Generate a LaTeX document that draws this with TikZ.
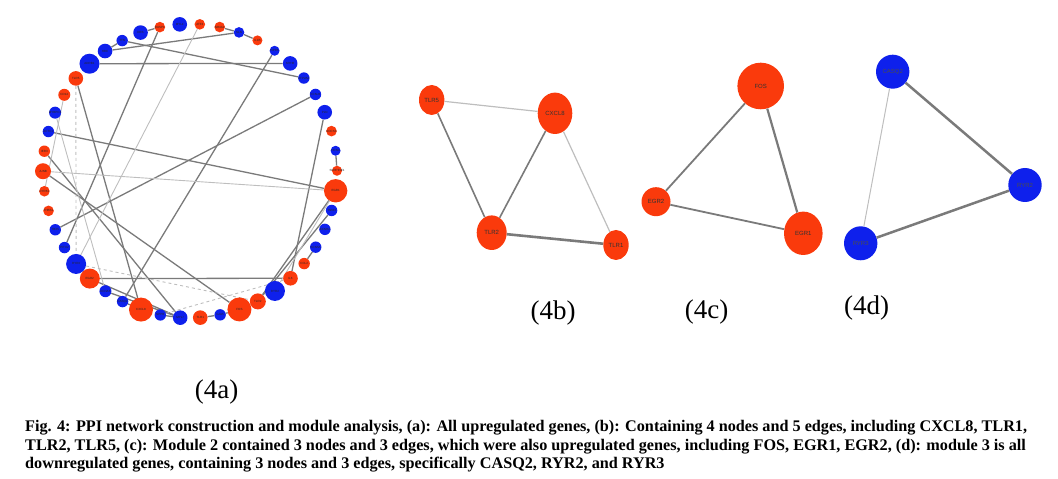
\documentclass[tikz,border=0pt]{standalone}
\usepackage{fontspec}
\setmainfont{Liberation Serif}
\setsansfont{Liberation Sans}
\usetikzlibrary{shapes.geometric}
\usetikzlibrary{backgrounds}
\definecolor{upred}{RGB}{250,58,12}
\definecolor{downblue}{RGB}{14,32,236}
\definecolor{edgegray}{RGB}{122,122,122}
\definecolor{edgelight}{RGB}{190,190,190}
\newcommand\tinyname[0]{\sffamily\fontsize{3}{3}\selectfont}

\tikzset{
  gene/.style={circle,inner sep=0pt},
  genename/.style={inner sep=0pt,text=black!85,font=\tinyname},
  module/.style={ellipse,inner sep=0pt,text=black!80,font=\sffamily\fontsize{6}{6}\selectfont},
  link/.style={edgegray,line width=1.3pt},
  weak/.style={edgelight,line width=0.9pt},
  panel/.style={font=\fontsize{27}{27}\selectfont},
}

\begin{document}
\begin{tikzpicture}[x=1pt,y=1pt]

\useasboundingbox (0,0) rectangle (1058,479);

% (4a) all genes on a ring
\begin{scope}[shift={(190,308)}]
\foreach \col/\rad/\lab [count=\i] in {
  downblue/7.3/MYL4, upred/5.3/ATF3, upred/5.3/NR4A2, downblue/5.3/SLN,
  upred/5/IL1B, downblue/5/NPPA, downblue/7.3/MYH6, downblue/5.7/ATP2A2,
  downblue/5.7/KCNJ3, downblue/7.3/PLN, upred/5.3/SOCS3, downblue/5/HCN4,
  upred/5/SERPINE1, upred/11.7/EGR1, downblue/5.7/TNNI3, downblue/5.7/KCNH2,
  downblue/5.7/SCN5A, upred/5.7/CCL2, upred/7.3/IL6, downblue/10/RYR2,
  upred/8/TLR2, upred/12/FOS, downblue/5.7/GJA5, upred/7.3/TLR1,
  downblue/7.3/MYL7, downblue/5.7/NPPB, upred/12/CXCL8, downblue/5.7/CASQ2,
  downblue/6/KCNA5, upred/10/EGR2, downblue/10/RYR3, downblue/5.7/PITX2,
  downblue/5.7/TBX5, upred/5.3/THBS1, upred/5.3/CYR61, upred/8/JUNB,
  upred/5.7/IER3, downblue/5.7/ACTC1, downblue/6/MYBPC3, upred/6/CD14,
  upred/7.3/TLR5, downblue/10/ADRB1, downblue/7.3/HRC, downblue/5.7/TTN,
  downblue/7.3/DES, upred/5.3/DUSP1}
  \node[gene,fill=\col,minimum size=2*\rad pt,label={[genename]center:\lab}] (n\i) at ({94-7.826*(\i-1)}:147) {};
\end{scope}

\begin{scope}[on background layer]
\foreach \a/\b in {42/7,43/4,44/8,46/32,6/28,9/33,10/19,38/14,37/25,36/22,14/21,15/21,30/19,41/27,29/25,30/25,
  45/46,43/44,3/4,4/5,12/13,22/23,23/24,27/28,25/26,17/18}
  \draw[link] (n\a) -- (n\b);
\foreach \a/\b in {2/31,36/14,40/35,39/29,14/20}
  \draw[weak] (n\a) -- (n\b);
\foreach \a/\b in {31/21,26/19,41/31}
  \draw[weak,dashed] (n\a) -- (n\b);
\end{scope}

\node[panel] (lba) at (216.7,87.3) {(4a)};

% (4b)
\node[module,fill=upred,minimum width=25.4pt,minimum height=30pt] (tlr5) at (431.7,379) {TLR5};
\node[module,fill=upred,minimum width=34.6pt,minimum height=41.4pt] (cxcl8) at (555,365.7) {CXCL8};
\node[module,fill=upred,minimum width=30pt,minimum height=34.6pt] (tlr2) at (491.7,246.3) {TLR2};
\node[module,fill=upred,minimum width=25.4pt,minimum height=30pt] (tlr1) at (616,234) {TLR1};
\draw[edgelight,line width=1.2pt] (tlr5) -- (cxcl8);
\draw[link,line width=1.6pt] (tlr5) -- (tlr2);
\draw[link,line width=1.6pt] (cxcl8) -- (tlr2);
\draw[edgelight,line width=1.2pt] (cxcl8) -- (tlr1);
\draw[edgegray,line width=2.6pt] (tlr2) -- (tlr1);
\node[panel] (lbb) at (553,165.7) {(4b)};

% (4c)
\node[module,fill=upred,minimum width=46.6pt,minimum height=46.6pt] (fos) at (760.7,393) {FOS};
\node[module,fill=upred,minimum width=29pt,minimum height=29pt] (egr2) at (656,277.3) {EGR2};
\node[module,fill=upred,minimum width=38.6pt,minimum height=43.4pt] (egr1) at (803.3,245.7) {EGR1};
\draw[link,line width=1.8pt] (fos) -- (egr2);
\draw[link,line width=2.2pt] (fos) -- (egr1);
\draw[link,line width=1.8pt] (egr2) -- (egr1);
\node[panel] (lbc) at (706.7,167.3) {(4c)};

% (4d)
\node[module,fill=downblue,text=black!70,minimum width=33.4pt,minimum height=34pt] (casq2) at (892.7,407.3) {CASQ2};
\node[module,fill=downblue,text=black!70,minimum width=33.4pt,minimum height=34pt] (ryr2) at (1025,294) {RYR2};
\node[module,fill=downblue,text=black!70,minimum width=33.4pt,minimum height=34pt] (ryr3) at (860.7,235.7) {RYR3};
\draw[edgelight,line width=1pt] (casq2) -- (ryr3);
\draw[edgegray,line width=2.5pt] (casq2) -- (ryr2);
\draw[edgegray,line width=2.5pt] (ryr3) -- (ryr2);
\node[panel] (lbd) at (866.7,170.7) {(4d)};

% caption
\begin{scope}[every node/.style={anchor=base west,inner sep=0pt,font=\bfseries\fontsize{16.2}{19}\selectfont}]
\node (cap1) at (25,47.3) {Fig. 4: PPI network construction and module analysis, (a): All upregulated genes, (b): Containing 4 nodes and 5 edges, including CXCL8, TLR1,};
\node (cap2) at (25,28.3) {TLR2, TLR5, (c): Module 2 contained 3 nodes and 3 edges, which were also upregulated genes, including FOS, EGR1, EGR2, (d): module 3 is all};
\node (cap3) at (25,10) {downregulated genes, containing 3 nodes and 3 edges, specifically CASQ2, RYR2, and RYR3};
\end{scope}

\end{tikzpicture}
\end{document}
